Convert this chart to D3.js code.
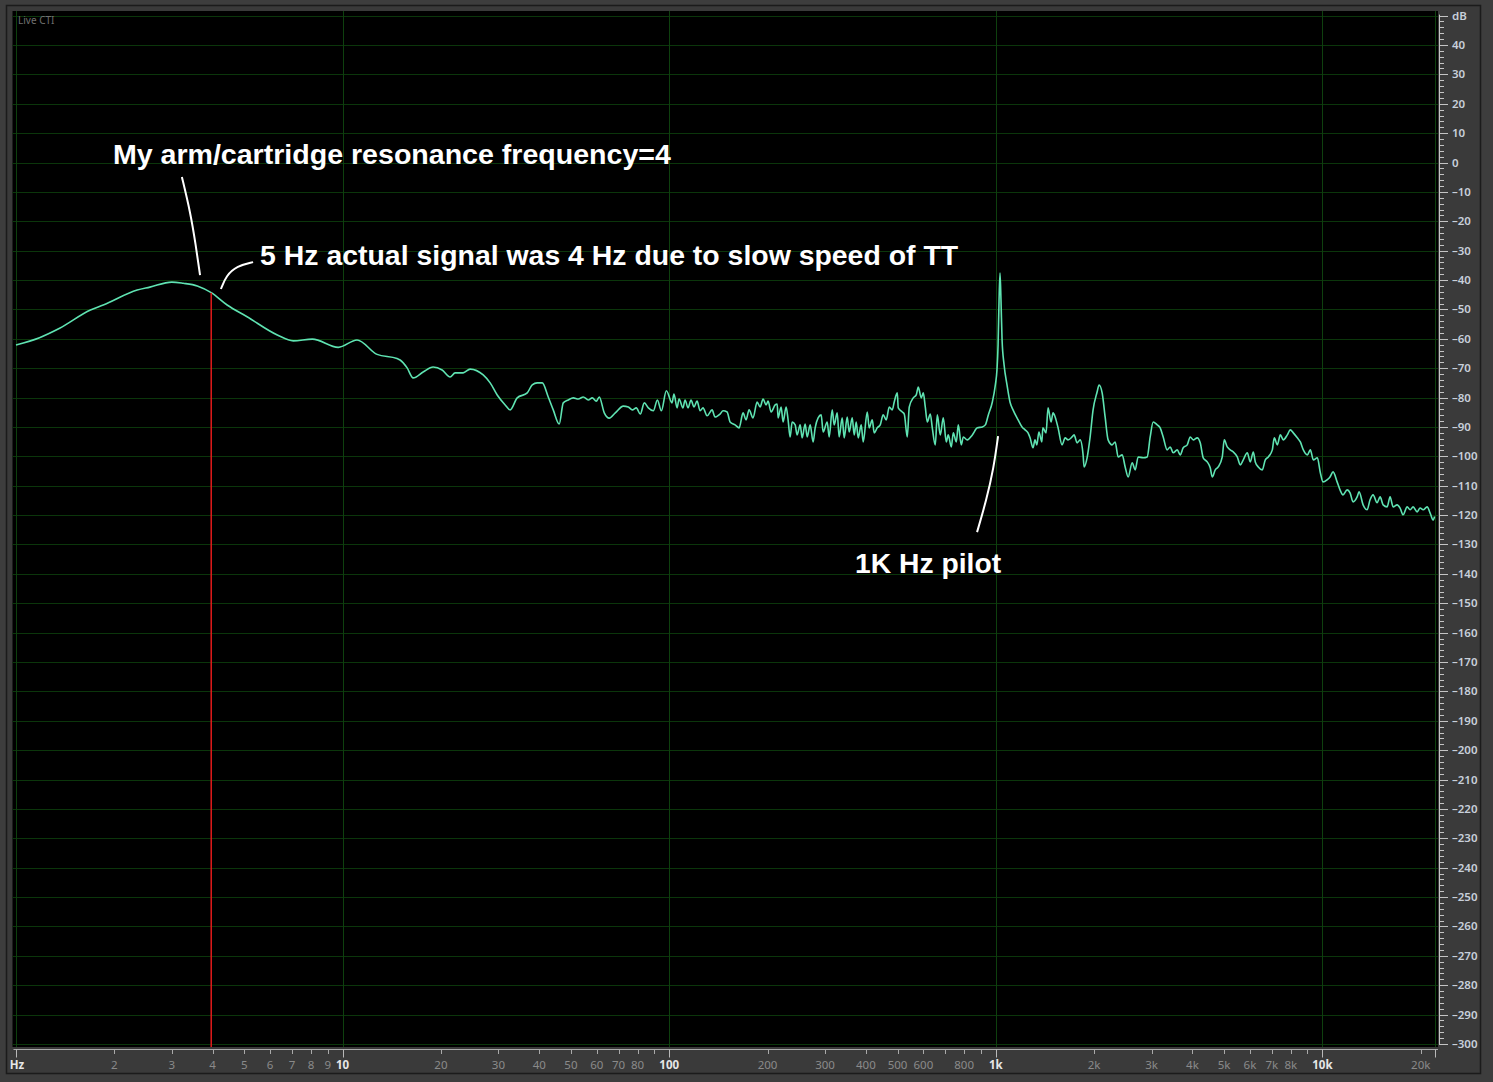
<!DOCTYPE html>
<html><head><meta charset="utf-8">
<script src="https://cdn.jsdelivr.net/npm/d3@7/dist/d3.min.js"></script>
<style>
html,body{margin:0;padding:0;background:#3c3c3c;}
svg{display:block;}
</style></head>
<body>
<svg id="chart" width="1493" height="1082"></svg>
<script>
// ---------- DATA ----------
// Frequency (Hz) of each spectrum point
const freqHz = [
1.0,1.18,1.36,1.69,1.85,2.35,2.57,3.0,3.25,3.59,3.96,4.43,5.10,6.31,7.06,8.08,9.70,
11.07,12.75,14.68,15.0,15.76,16.44,17.64,18.93,20.17,21.34,22.1,23.39,24.57,26.94,28.3,29.74,31.46,32.58,34.24,36.75,38.07,39.43,40.85,42.62,44.15,46.05,47.38,49.08,50.84,52.67,54.56,56.52,58.14,59.8,61.07,63.26,65.53,68.36,72.35,74.95,77.1,79.3,81.55,83.9,86.3,89.4,92.0,94.6,98.0,
102.0,103.4,105.7,107.2,110.2,111.8,114.2,116.6,119.1,121.7,124.3,126.9,130.6,135.3,138.1,143.1,146.2,150.4,153.6,159.1,163.7,168.3,171.9,175.6,180.6,185.8,189.8,193.8,198.0,200.8,205.1,211.0,214.0,215.5,220.1,223.2,228.0,231.2,234.5,237.9,243.0,246.4,251.7,255.3,260.7,264.5,270.1,275.8,279.8,285.7,291.9,296.0,304.5,308.9,315.5,320.0,326.8,331.4,338.5,343.4,350.7,355.7,363.3,368.5,373.7,379.0,387.1,392.6,403.9,409.6,418.4,424.3,433.4,442.6,452.0,461.8,471.7,481.8,488.6,499.1,502.7,517.0,524.4,535.6,543.2,558.7,570.6,578.8,591.1,599.6,608.1,616.8,629.9,638.9,652.5,661.9,676.0,690.4,705.2,715.2,730.5,740.9,756.8,767.5,783.9,795.1,818.0,847.3,877.8,909.3,928.7,948.5,975.8,996.6,
1008,1016,1023,1030,1037,1045,1060,1082,1105,1129,1170,1203,1229,1255,1273,1300,1318,1335,1355,1383,1393,1425,1445,1476,1497,1519,1551,1595,1630,1664,1712,1736,1774,1812,1850,1863,1903,1944,1985,2042,2071,2116,2161,2207,2271,2319,2369,2437,2489,2542,2615,2671,2728,2826,2907,2969,3032,3119,3186,3254,3347,3419,3492,3592,3669,3747,3855,3937,4021,4137,4225,4315,4439,4534,4598,4697,4797,4935,5005,5112,5221,5333,5486,5603,5723,5887,6013,6141,6229,6362,6544,6684,6827,7023,7122,7275,7431,7589,7807,7974,8144,8378,8557,8740,8990,9183,9379,9648,9854,
10040,10330,10550,10780,11090,11320,11560,11900,12150,12410,12770,12950,13320,13700,13990,14290,14700,15020,15340,15780,16110,16460,16930,17290,17660,18170,18560,18950,19500,19910,20340,20920,21370,21820,22050
];
// Level (dB) at each frequency above
const levelDb = [
-62.1,-59.6,-56.4,-50.2,-48.5,-43.4,-42.4,-40.7,-41.1,-42.0,-44.3,-48.5,-52.5,-58.7,-60.7,-60.1,-62.9,
-60.4,-65.3,-66.7,-67.2,-69.9,-73.3,-71.3,-69.6,-70.6,-73.0,-71.6,-71.6,-70.3,-72.3,-75.0,-79.1,-82.5,-84.2,-80.1,-78.4,-75.7,-75.0,-75.0,-79.8,-84.2,-89.0,-81.8,-80.8,-80.1,-80.5,-79.8,-80.8,-80.1,-81.2,-79.8,-85.2,-87.0,-85.2,-82.9,-83.2,-84.2,-83.5,-85.6,-81.8,-83.5,-84.5,-80.8,-84.5,-77.7,
-81.8,-78.8,-83.5,-80.5,-83.5,-80.8,-83.5,-80.8,-83.2,-81.2,-84.5,-83.5,-86.2,-84.2,-86.6,-85.6,-84.5,-84.9,-88.3,-89.3,-90.3,-85.2,-87.6,-84.2,-86.9,-81.5,-83.2,-80.5,-82.5,-81.2,-84.9,-82.5,-82.2,-86.9,-83.2,-88.3,-83.2,-87.6,-93.4,-88.3,-89.3,-92.7,-89.3,-93.7,-89.0,-93.4,-89.3,-95.1,-90.3,-86.9,-85.9,-91.7,-88.3,-93.4,-84.2,-89.3,-85.2,-93.4,-86.9,-93.7,-86.6,-91.7,-86.9,-92.7,-88.3,-93.7,-89.3,-95.1,-84.9,-90.3,-87.6,-92.0,-90.3,-89.3,-85.9,-87.6,-83.2,-84.2,-81.5,-78.4,-83.5,-84.9,-85.6,-93.4,-83.2,-80.1,-79.1,-76.4,-80.1,-78.4,-83.2,-88.3,-85.6,-90.3,-96.1,-85.9,-92.7,-86.9,-95.1,-92.7,-96.8,-92.0,-95.1,-89.3,-96.1,-93.4,-94.4,-92.7,-90.3,-90.0,-89.3,-85.9,-81.5,-75.7,
-70.6,-62.1,-46.8,-37.6,-46.8,-60.4,-68.9,-75.7,-81.5,-84.2,-87.6,-90.0,-91.0,-92.0,-93.7,-97.1,-94.4,-96.1,-91.7,-95.1,-90.3,-92.0,-83.5,-88.3,-85.2,-86.6,-90.3,-96.1,-93.7,-94.4,-93.4,-92.7,-95.4,-94.4,-99.5,-103.6,-100.5,-93.4,-84.2,-78.1,-75.7,-78.4,-86.6,-94.4,-96.1,-95.1,-100.2,-99.5,-103.6,-107.0,-102.2,-104.6,-100.2,-100.5,-100.2,-93.4,-88.3,-89.3,-90.3,-93.4,-97.8,-96.8,-98.8,-97.8,-99.5,-97.1,-96.1,-93.4,-94.4,-93.7,-95.4,-100.5,-101.9,-103.9,-107.0,-104.6,-103.6,-100.2,-94.4,-96.8,-97.8,-98.5,-100.2,-102.9,-101.2,-98.8,-101.9,-98.5,-101.9,-103.6,-104.6,-101.2,-100.2,-97.8,-93.7,-96.1,-92.7,-94.4,-92.7,-91.0,-92.0,-93.7,-95.1,-97.8,-99.5,-97.8,-101.2,-100.5,-105.6,
-108.7,-108.0,-107.0,-105.3,-108.7,-111.4,-113.1,-111.4,-112.4,-115.5,-113.8,-112.1,-116.5,-118.2,-114.8,-113.1,-115.8,-113.8,-116.5,-117.2,-113.8,-117.2,-116.5,-117.6,-119.9,-117.2,-118.2,-117.2,-118.9,-117.6,-118.2,-117.2,-119.3,-121.7,-120.5
];

// Axis definitions
const dbMax = 50, dbMin = -300;
const dbMajorStep = 10, dbMinorStep = 2;
const freqMin = 1, freqMax = 22050;
const decadeTicks = [1, 10, 100, 1000, 10000];
const decadeLabels = ["Hz", "10", "100", "1k", "10k"];
const minorTicks = [2,3,4,5,6,7,8,9,20,30,40,50,60,70,80,90,200,300,400,500,600,700,800,900,2000,3000,4000,5000,6000,7000,8000,9000,20000];
const minorLabels = {2:"2",3:"3",4:"4",5:"5",6:"6",7:"7",8:"8",9:"9",20:"20",30:"30",40:"40",50:"50",60:"60",70:"70",80:"80",200:"200",300:"300",400:"400",500:"500",600:"600",800:"800",2000:"2k",3000:"3k",4000:"4k",5000:"5k",6000:"6k",7000:"7k",8000:"8k",20000:"20k"};

// Cursor (Live CTI) frequency
const cursorHz = 3.96;

// Annotations (anchored in data units: Hz, dB)
const notes = [
  {text: "My arm/cartridge resonance frequency=4", hz: 1.98, db: -0.5, width: 558},
  {text: "5 Hz actual signal was 4 Hz due to slow speed of TT", hz: 5.59, db: -34.9, width: 698},
  {text: "1K Hz pilot", hz: 370.7, db: -139.7, width: 146}
];
const leaders = [
  [[3.22,-4.9],[3.42,-17],[3.55,-28],[3.66,-38.3]],
  [[5.32,-33.9],[4.75,-35.2],[4.4,-38.5],[4.24,-43.05]],
  [[1016,-93.1],[985,-104],[935,-115],[876,-125.8]]
];

// ---------- DRAW ----------
const svg = d3.select("#chart");
const W = 1493, H = 1082;
const plot = {left: 12.5, right: 1438, top: 11, bottom: 1047};

const x = d3.scaleLog().domain([freqMin, freqMax]).range([16, 1434.6]);
const y = d3.scaleLinear().domain([dbMax, dbMin]).range([15.6, 1044]);

// frame
svg.append("rect").attr("x",0).attr("y",0).attr("width",W).attr("height",H).attr("fill","#3d3d3d");
svg.append("rect").attr("x",6.5).attr("y",5.5).attr("width",1474).attr("height",1068)
  .attr("fill","#3a3a3a").attr("stroke","#1b1b1b").attr("stroke-width",1.5);
svg.append("rect").attr("x",plot.left).attr("y",plot.top).attr("width",plot.right-plot.left).attr("height",plot.bottom-plot.top).attr("fill","#000");

// grid
const gridColor = "#0b360b";
const dbGrid = d3.range(dbMax, dbMin - 1, -dbMajorStep);
svg.append("g").selectAll("line").data(dbGrid).join("line")
  .attr("x1", plot.left).attr("x2", plot.right)
  .attr("y1", d => Math.round(y(d))+0.5).attr("y2", d => Math.round(y(d))+0.5)
  .attr("stroke", gridColor).attr("stroke-width",1);
svg.append("g").selectAll("line").data(decadeTicks.concat([freqMax])).join("line")
  .attr("y1", plot.top).attr("y2", plot.bottom)
  .attr("x1", d => Math.round(x(d))+0.5).attr("x2", d => Math.round(x(d))+0.5)
  .attr("stroke", "#0e400e").attr("stroke-width",1);

// live cti label
svg.append("text").attr("x",18).attr("y",24).text("Live CTI")
  .attr("fill","#6f6f6f").attr("font-family","'Noto Sans', 'DejaVu Sans', sans-serif").attr("font-size",10);

// spectrum
const pts = freqHz.map((f,i) => [f, levelDb[i]]);
const line = d3.line().x(d => x(d[0])).y(d => y(d[1])).curve(d3.curveMonotoneX);
svg.append("path").datum(pts).attr("d", line)
  .attr("fill","none").attr("stroke","#5fe3b2").attr("stroke-width",1.6).attr("stroke-linejoin","round");

// cursor line
const cursorDb = d3.scaleLog().domain(freqHz).range(levelDb); // piecewise log-lin lookup
svg.append("line")
  .attr("x1", x(cursorHz)).attr("x2", x(cursorHz))
  .attr("y1", y(cursorDb(cursorHz))).attr("y2", plot.bottom)
  .attr("stroke","#e21b1b").attr("stroke-width",1.5);

// bottom ruler
const rulerY = 1049.5;
svg.append("line").attr("x1",plot.left+1).attr("x2",plot.right).attr("y1",rulerY).attr("y2",rulerY)
  .attr("stroke","#a9a9a9").attr("stroke-width",1);
svg.append("g").selectAll("line").data(minorTicks).join("line")
  .attr("x1", d => Math.round(x(d))+0.5).attr("x2", d => Math.round(x(d))+0.5)
  .attr("y1", rulerY).attr("y2", rulerY+4.5).attr("stroke","#a9a9a9");
svg.append("g").selectAll("line").data(decadeTicks.concat([freqMax])).join("line")
  .attr("x1", d => Math.round(x(d))+0.5).attr("x2", d => Math.round(x(d))+0.5)
  .attr("y1", rulerY).attr("y2", rulerY+8).attr("stroke","#b9b9b9");
const fontAxis = "'Noto Sans', 'DejaVu Sans', sans-serif";
svg.append("g").selectAll("text").data(Object.keys(minorLabels).map(Number)).join("text")
  .attr("x", d => x(d)).attr("y", 1069).attr("text-anchor","middle")
  .attr("fill","#8a8a8a").attr("font-family",fontAxis).attr("font-size",11.5)
  .text(d => minorLabels[d]);
svg.append("g").selectAll("text").data(decadeTicks).join("text")
  .attr("x", (d,i) => x(d) + (i===0 ? 1 : 0)).attr("y", 1069).attr("text-anchor","middle")
  .attr("fill","#e6e6e6").attr("font-weight","bold").attr("font-family",fontAxis).attr("font-size",11.5)
  .text((d,i) => decadeLabels[i]);

// right ruler
const rulerX = 1439.5;
svg.append("line").attr("x1",rulerX).attr("x2",rulerX).attr("y1",y(dbMax)-1).attr("y2",y(dbMin)+1)
  .attr("stroke","#c4c4c4").attr("stroke-width",1);
const dbMinor = d3.range(dbMax, dbMin - 1, -dbMinorStep).filter(d => d % dbMajorStep !== 0);
svg.append("g").selectAll("line").data(dbMinor).join("line")
  .attr("x1", rulerX).attr("x2", rulerX+4.5)
  .attr("y1", d => Math.round(y(d))+0.5).attr("y2", d => Math.round(y(d))+0.5).attr("stroke","#c4c4c4");
svg.append("g").selectAll("line").data(dbGrid).join("line")
  .attr("x1", rulerX).attr("x2", rulerX+8.5)
  .attr("y1", d => Math.round(y(d))+0.5).attr("y2", d => Math.round(y(d))+0.5).attr("stroke","#c4c4c4");
svg.append("g").selectAll("text").data(dbGrid).join("text")
  .attr("x", 1452).attr("y", d => y(d) + 4)
  .attr("fill","#c8d0da").attr("font-family",fontAxis).attr("font-size",11.5).attr("font-weight",600)
  .text(d => d === dbMax ? "dB" : (d < 0 ? "\u2013" + Math.abs(d) : String(d)));

// annotations
svg.append("g").selectAll("text").data(notes).join("text")
  .attr("x", d => x(d.hz)).attr("y", d => y(d.db))
  .attr("fill","#ffffff").attr("font-family","'Liberation Sans', Arial, sans-serif")
  .attr("font-weight","bold").attr("font-size",28)
  .attr("textLength", d => d.width).attr("lengthAdjust","spacingAndGlyphs")
  .text(d => d.text);
const leaderLine = d3.line().x(d => x(d[0])).y(d => y(d[1])).curve(d3.curveBasis);
svg.append("g").selectAll("path").data(leaders).join("path")
  .attr("d", leaderLine).attr("fill","none").attr("stroke","#ffffff").attr("stroke-width",2);
</script>
</body></html>
